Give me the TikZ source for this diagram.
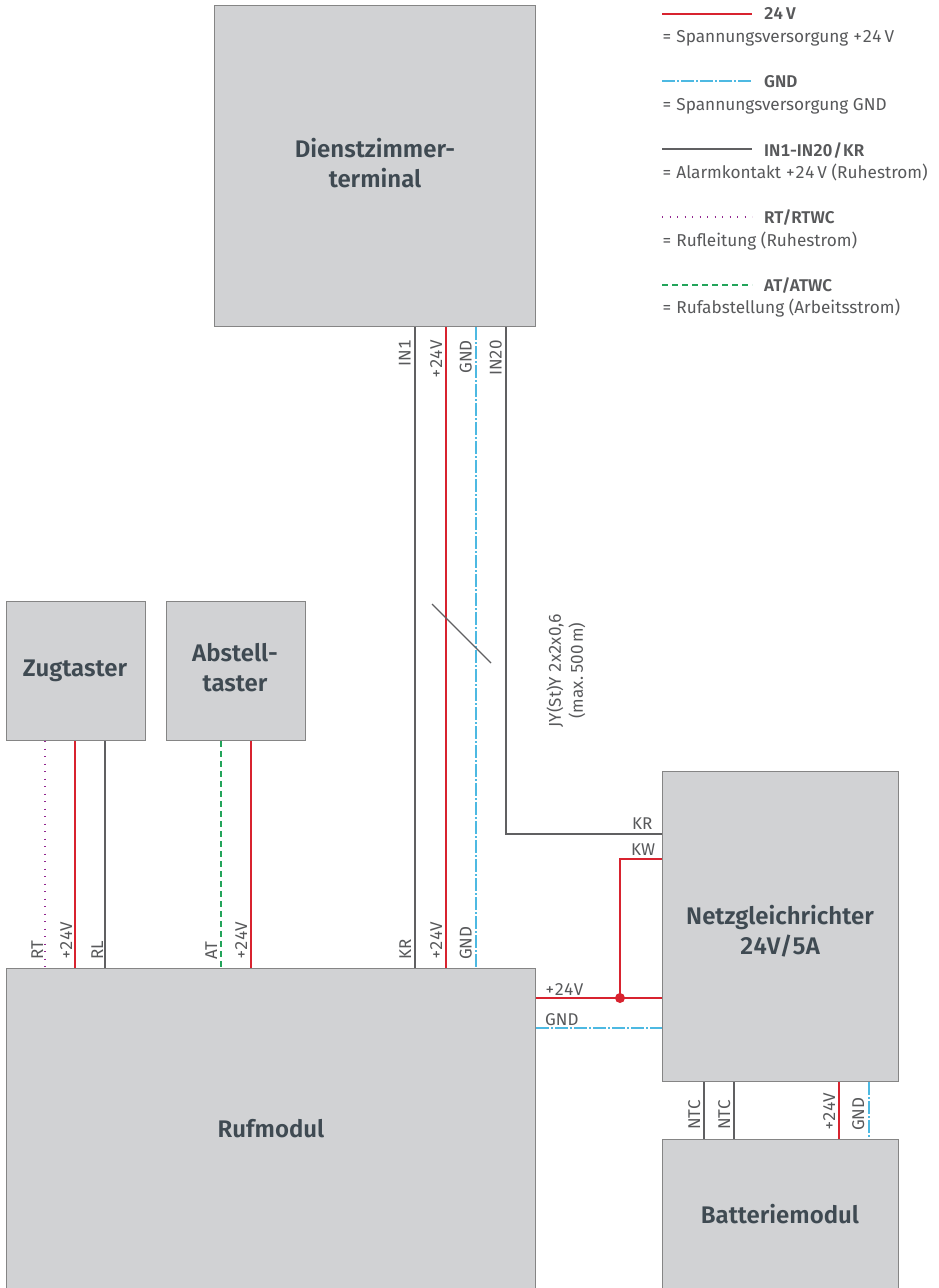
\documentclass[tikz,border=0pt]{standalone}
\usepackage{fontspec}
\setmainfont{Fira Sans}[BoldFont={Fira Sans SemiBold},Numbers={Lining,Monospaced}]
\usetikzlibrary{calc}
\definecolor{boxfill}{HTML}{D1D2D4}
\definecolor{boxline}{HTML}{858585}
\definecolor{titlecol}{HTML}{3F4A52}
\definecolor{txtcol}{HTML}{58595B}
\definecolor{redw}{HTML}{D8232F}
\definecolor{cyanw}{HTML}{4DB9E2}
\definecolor{blackw}{HTML}{606062}
\definecolor{purplew}{HTML}{93278F}
\definecolor{greenw}{HTML}{22A45A}
\tikzset{
  x=1pt,y=-1pt,
  block/.style={draw=boxline,fill=boxfill,line width=1.1pt,inner sep=0,anchor=north west},
  blocklab/.style={inner sep=0,text=titlecol,align=center,font=\fontsize{24}{30}\selectfont\bfseries},
  wred/.style={draw=redw,line width=1.1pt},
  wcyan/.style={draw=cyanw,line width=1.1pt,dash pattern=on 12.5pt off 2.5pt on 1.5pt off 2.5pt},
  wblack/.style={draw=blackw,line width=1.1pt},
  wpurple/.style={draw=purplew,line width=1.1pt,dash pattern=on 1.1pt off 6.4pt},
  wgreen/.style={draw=greenw,line width=1.1pt,dash pattern=on 5.6pt off 4.4pt},
  vtop/.style={rotate=90,anchor=base east,inner sep=0,text=txtcol,font=\fontsize{17}{20}\selectfont},
  vlow/.style={rotate=90,anchor=base west,inner sep=0,text=txtcol,font=\fontsize{17}{20}\selectfont},
  hlab/.style={anchor=base west,inner sep=0,text=txtcol,font=\fontsize{17}{20}\selectfont},
  leghead/.style={anchor=base west,inner sep=0,text=txtcol,font=\fontsize{17}{20}\selectfont\bfseries},
  legtxt/.style={anchor=base west,inner sep=0,text=txtcol,font=\fontsize{17.2}{20}\selectfont},
  cablelab/.style={rotate=90,inner sep=0,text=txtcol,align=center,font=\fontsize{17}{22}\selectfont},
}
\begin{document}
\begin{tikzpicture}
\useasboundingbox (0,0) rectangle (939,1288);
\clip (0,0) rectangle (939,1288);
\fill[white] (0,0) rectangle (939,1288);
% blocks
\node[block,minimum width=321pt,minimum height=321pt] (dienst) at (214,5) {};
\node[blocklab] (dienstlab) at (375,163) {Dienstzimmer-\\terminal};
\node[block,minimum width=139pt,minimum height=139pt] (zug) at (6,601) {};
\node[blocklab] (zuglab) at (75,671) {Zugtaster};
\node[block,minimum width=139pt,minimum height=139pt] (abst) at (166,601) {};
\node[blocklab] (abstlab) at (235,668) {Abstell-\\taster};
\node[block,minimum width=529pt,minimum height=330pt] (ruf) at (6,968) {};
\node[blocklab] (ruflab) at (271,1129) {Rufmodul};
\node[block,minimum width=236pt,minimum height=310pt] (netz) at (662,771) {};
\node[blocklab] (netzlab) at (780,931) {Netzgleichrichter\\24V/5A};
\node[block,minimum width=236pt,minimum height=160pt] (batt) at (662,1139) {};
\node[blocklab] (battlab) at (780,1214) {Batteriemodul};
% named junctions
\coordinate (kbend) at (506,834);
\coordinate (kwbend) at (620,859);
\coordinate (junc) at (620,998);
\coordinate (gndy) at (535,1028);
% trunk wires
\draw[wblack] (415,0 |- dienst.south) -- (415,0 |- ruf.north);
\draw[wred] (446,0 |- dienst.south) -- (446,0 |- ruf.north);
\draw[wcyan] (476,0 |- dienst.south) -- (476,0 |- ruf.north);
\draw[wblack] (506,0 |- dienst.south) -- (kbend) -- (kbend -| netz.west);
% Zugtaster
\draw[wpurple] (45,0 |- zug.south) -- (45,0 |- ruf.north);
\draw[wred] (75,0 |- zug.south) -- (75,0 |- ruf.north);
\draw[wblack] (105,0 |- zug.south) -- (105,0 |- ruf.north);
% Abstelltaster
\draw[wgreen] (221,0 |- abst.south) -- (221,0 |- ruf.north);
\draw[wred] (251,0 |- abst.south) -- (251,0 |- ruf.north);
% Rufmodul to Netz
\draw[wred] (junc -| ruf.east) -- (junc -| netz.west);
\draw[wcyan] (gndy -| ruf.east) -- (gndy -| netz.west);
\draw[wred] (junc) -- (kwbend) -- (kwbend -| netz.west);
\fill[redw] (junc) circle (5pt);
% Netz to Batterie
\draw[wblack] (704,0 |- netz.south) -- (704,0 |- batt.north);
\draw[wblack] (734,0 |- netz.south) -- (734,0 |- batt.north);
\draw[wred] (839,0 |- netz.south) -- (839,0 |- batt.north);
\draw[wcyan] (869,0 |- netz.south) -- (869,0 |- batt.north);
% slash
\coordinate (sa) at (432,604);
\coordinate (sb) at (491,663);
\draw[draw=blackw,line width=1.1pt] (sa) -- (sb);
% cable label
\node[cablelab] (cable) at (566,670.5) {JY(St)Y 2x2x0,6\\(max.\,500\,m)};
% vertical labels
\node[vtop] (l1) at (410.5,340) {IN1};
\node[vtop] (l2) at (442,340) {+24V};
\node[vtop] (l3) at (471.5,340) {GND};
\node[vtop] (l4) at (501.5,340) {IN20};
\node[vlow] (l5) at (43,960) {RT};
\node[vlow] (l6) at (72,960) {+24V};
\node[vlow] (l7) at (103,960) {RL};
\node[vlow] (l8) at (217,960) {AT};
\node[vlow] (l9) at (247,960) {+24V};
\node[vlow] (l10) at (411,960) {KR};
\node[vlow] (l11) at (442,960) {+24V};
\node[vlow] (l12) at (471.5,960) {GND};
\node[vlow] (l13) at (700,1130) {NTC};
\node[vlow] (l14) at (730,1130) {NTC};
\node[vlow] (l15) at (835,1131) {+24V};
\node[vlow] (l16) at (864,1131) {GND};
% horizontal labels
\node[hlab] (h1) at (632,829) {KR};
\node[hlab] (h2) at (631,855) {KW};
\node[hlab] (h3) at (545,995) {+24V};
\node[hlab] (h4) at (545,1025) {GND};
% legend
\coordinate (la1) at (662,14); \coordinate (lb1) at (752,14);
\coordinate (la2) at (662,81); \coordinate (lb2) at (752,81);
\coordinate (la3) at (662,149); \coordinate (lb3) at (752,149);
\coordinate (la4) at (662,217); \coordinate (lb4) at (752,217);
\coordinate (la5) at (662,285); \coordinate (lb5) at (752,285);
\draw[wred] (la1) -- (lb1);
\draw[wcyan] (la2) -- (lb2);
\draw[wblack] (la3) -- (lb3);
\draw[wpurple] (la4) -- (lb4);
\draw[wgreen] (la5) -- (lb5);
\node[leghead] (t1) at (764,19) {24\,V};
\node[legtxt] (d1) at (662,42) {= Spannungsversorgung +24\,V};
\node[leghead] (t2) at (764,87) {GND};
\node[legtxt] (d2) at (662,110) {= Spannungsversorgung GND};
\node[leghead] (t3) at (764,156) {IN1-IN20\kern1pt/\kern1pt KR};
\node[legtxt] (d3) at (662,178) {= Alarmkontakt +24\,V (Ruhestrom)};
\node[leghead] (t4) at (764,223) {RT/RTWC};
\node[legtxt] (d4) at (662,246) {= Rufleitung (Ruhestrom)};
\node[leghead] (t5) at (764,291) {AT/ATWC};
\node[legtxt] (d5) at (662,313) {= Rufabstellung (Arbeitsstrom)};
\end{tikzpicture}
\end{document}
